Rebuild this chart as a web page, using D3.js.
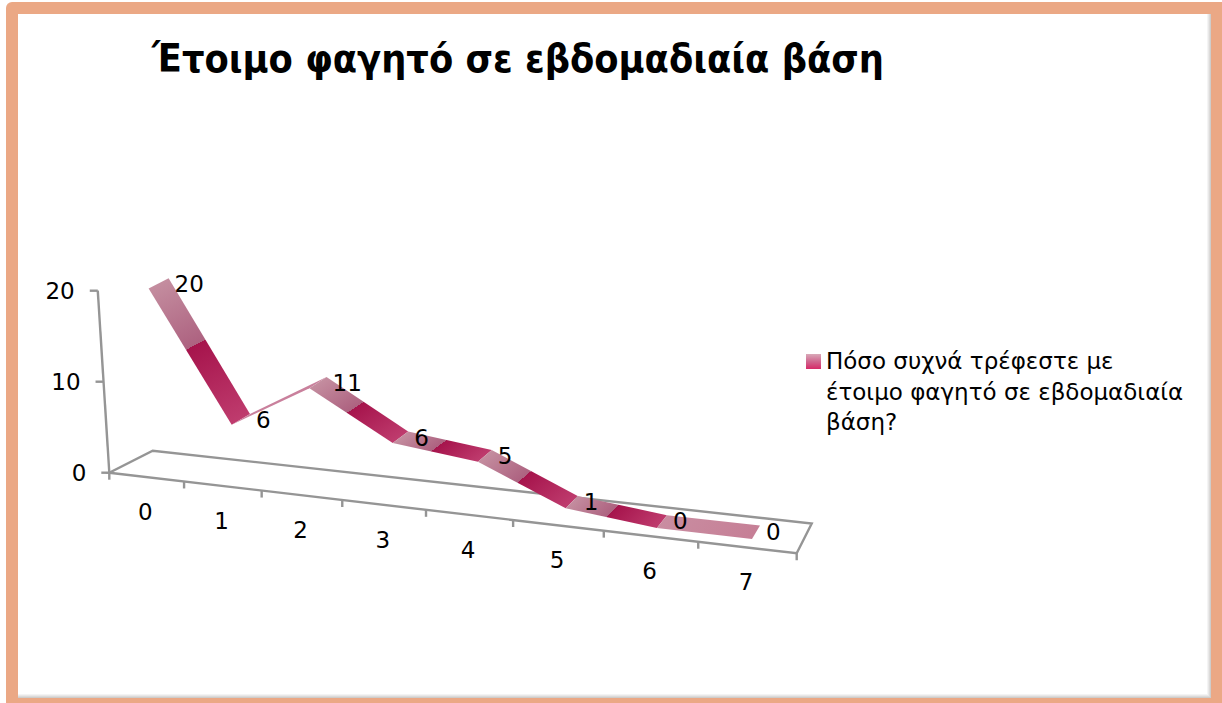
<!DOCTYPE html>
<html lang="el">
<head>
<meta charset="utf-8">
<script src="https://cdn.jsdelivr.net/npm/d3@7/dist/d3.min.js"></script>
<style>
html,body{margin:0;padding:0;background:#fff;overflow:hidden}
svg{display:block}
text{font-family:"DejaVu Sans",sans-serif;fill:#000}
.chart-title{font-family:"DejaVu Sans Condensed","DejaVu Sans",sans-serif;font-stretch:condensed}
</style>
</head>
<body>
<svg id="chart" width="1222" height="703"></svg>
<script>
// Chart content
const chartTitle = "Έτοιμο φαγητό σε εβδομαδιαία βάση";
const categories = ["0", "1", "2", "3", "4", "5", "6", "7"];
const seriesValues = [20, 6, 11, 6, 5, 1, 0, 0];
const valueTicks = [0, 10, 20];
const legendLines = ["Πόσο συχνά τρέφεστε με", "έτοιμο φαγητό σε εβδομαδιαία", "βάση?"];

const svg = d3.select("#chart");
const defs = svg.append("defs");
const labelSize = 23;

// Slide frame with a soft inner shadow along the bottom and right edges
svg.append("rect").attr("x", 6).attr("y", 2).attr("width", 1222).attr("height", 710).attr("rx", 6).attr("fill", "#eba885");
[[0, "#cfcdcb"], [1, "#dcdbda"], [2, "#e9e8e8"], [3, "#f4f4f4"], [4, "#fff"]].forEach(([inset, col]) => {
  svg.append("rect").attr("x", 18).attr("y", 14)
    .attr("width", 1193 - inset).attr("height", 684 - inset).attr("fill", col);
});

// Perspective projection of the floor: u runs along the categories, v runs into the depth
const uScale = d3.scaleBand().domain(categories).range([0, 1]);
const valueRise = d3.scaleLinear().domain([0, 20]).range([0, 182]);
const ribbonDepth = [0.28, 0.74];

function project(u, v, value) {
  const w = 1 - 0.1456 * u + 0.0464 * v;
  const fx = (571.4 * u + 50.5 * v + 109.3) / w;
  const fy = (-1.1 * v + 472.7) / w;
  const rise = valueRise(value);
  // Verticals converge on a point below the floor
  const lean = rise * 0.0634 * (fx - 460) / 351;
  return [fx + lean, fy - rise];
}

const axisColor = "#959595";
const axisWidth = 2.4;
const axisLine = d3.line();
const g = svg.append("g");

// Floor outline
const floorCorners = [[0, 0], [1, 0], [1, 1], [0, 1]];
g.append("path")
  .attr("d", axisLine(floorCorners.map(([u, v]) => project(u, v, 0))) + "Z")
  .attr("fill", "none").attr("stroke", axisColor).attr("stroke-width", axisWidth);

// Value axis with its tick marks and labels
const maxTick = valueTicks[valueTicks.length - 1];
g.append("path")
  .attr("d", axisLine([project(0, 0, 0), project(0, 0, maxTick)]))
  .attr("fill", "none").attr("stroke", axisColor).attr("stroke-width", axisWidth);
valueTicks.forEach(t => {
  const [x, y] = project(0, 0, t);
  g.append("path").attr("d", axisLine([[x - 8, y], [x, y]]))
    .attr("stroke", axisColor).attr("stroke-width", axisWidth);
  g.append("text").attr("x", x - 23).attr("y", y + 8).attr("text-anchor", "end")
    .attr("font-size", labelSize).text(t);
});

// Category ticks hang below the front edge, labels sit between them
d3.range(categories.length + 1).forEach(i => {
  const [x, y] = project(i / categories.length, 0, 0);
  g.append("path").attr("d", axisLine([[x, y], [x, y + 7]]))
    .attr("stroke", axisColor).attr("stroke-width", axisWidth);
});
categories.forEach(c => {
  const [x, y] = project(uScale(c) + uScale.bandwidth() / 2, 0, 0);
  g.append("text").attr("x", x - 1).attr("y", y + 43).attr("text-anchor", "middle")
    .attr("font-size", labelSize).text(c);
});

// Ribbon: every segment fades from a dusty rose into a deep crimson part way along.
// The colour bands run parallel to the ribbon's depth edges.
const centre = c => uScale(c) + uScale.bandwidth() / 2;
const fallingStops = [
  [0, "#c48d9f"], [0.45, "#ad6280"], [0.45, "#a6144c"], [1, "#bf3c6e"]
];
const risingStops = [[0, "#c9809c"], [1, "#c9809c"]];
const flatStops = [[0, "#c98da1"], [1, "#c67f96"]];

categories.slice(0, -1).forEach((c, i) => {
  const va = seriesValues[i], vb = seriesValues[i + 1];
  const [f0, b0] = ribbonDepth.map(d => project(centre(categories[i]), d, va));
  const [f1, b1] = ribbonDepth.map(d => project(centre(categories[i + 1]), d, vb));
  const dx = b0[0] - f0[0], dy = b0[1] - f0[1];
  const len = Math.hypot(dx, dy);
  const nx = -dy / len, ny = dx / len;
  const along = (f1[0] - f0[0]) * nx + (f1[1] - f0[1]) * ny;
  const id = "seg" + i;
  const grad = defs.append("linearGradient").attr("id", id)
    .attr("gradientUnits", "userSpaceOnUse")
    .attr("x1", f0[0]).attr("y1", f0[1])
    .attr("x2", f0[0] + nx * along).attr("y2", f0[1] + ny * along);
  const stops = va === vb ? flatStops : vb > va ? risingStops : fallingStops;
  stops.forEach(([o, col]) => grad.append("stop").attr("offset", o).attr("stop-color", col));
  g.append("path").attr("d", axisLine([f0, f1, b1, b0]) + "Z").attr("fill", `url(#${id})`);
});

// Data labels beside the back edge of the ribbon
categories.forEach((c, i) => {
  const [x, y] = project(centre(c), ribbonDepth[1], seriesValues[i]);
  g.append("text").attr("x", x + 6).attr("y", y + 14)
    .attr("font-size", labelSize).text(seriesValues[i]);
});

// Title
svg.append("text").attr("class", "chart-title").attr("x", 152).attr("y", 72).attr("font-size", 39.3)
  .attr("font-weight", 700).text(chartTitle);

// Legend
const swatch = defs.append("linearGradient").attr("id", "swatch")
  .attr("x1", 0).attr("y1", 0).attr("x2", 0).attr("y2", 1);
[[0, "#d9a9b8"], [0.5, "#d0668f"], [1, "#d62a68"]].forEach(([o, col]) =>
  swatch.append("stop").attr("offset", o).attr("stop-color", col));
svg.append("rect").attr("x", 806).attr("y", 354).attr("width", 15).attr("height", 15).attr("fill", "url(#swatch)");
svg.selectAll(".legend").data(legendLines).join("text").attr("class", "legend")
  .attr("x", 826).attr("y", (d, i) => 369 + i * 30.5).attr("font-size", labelSize).text(d => d);
</script>
</body>
</html>
